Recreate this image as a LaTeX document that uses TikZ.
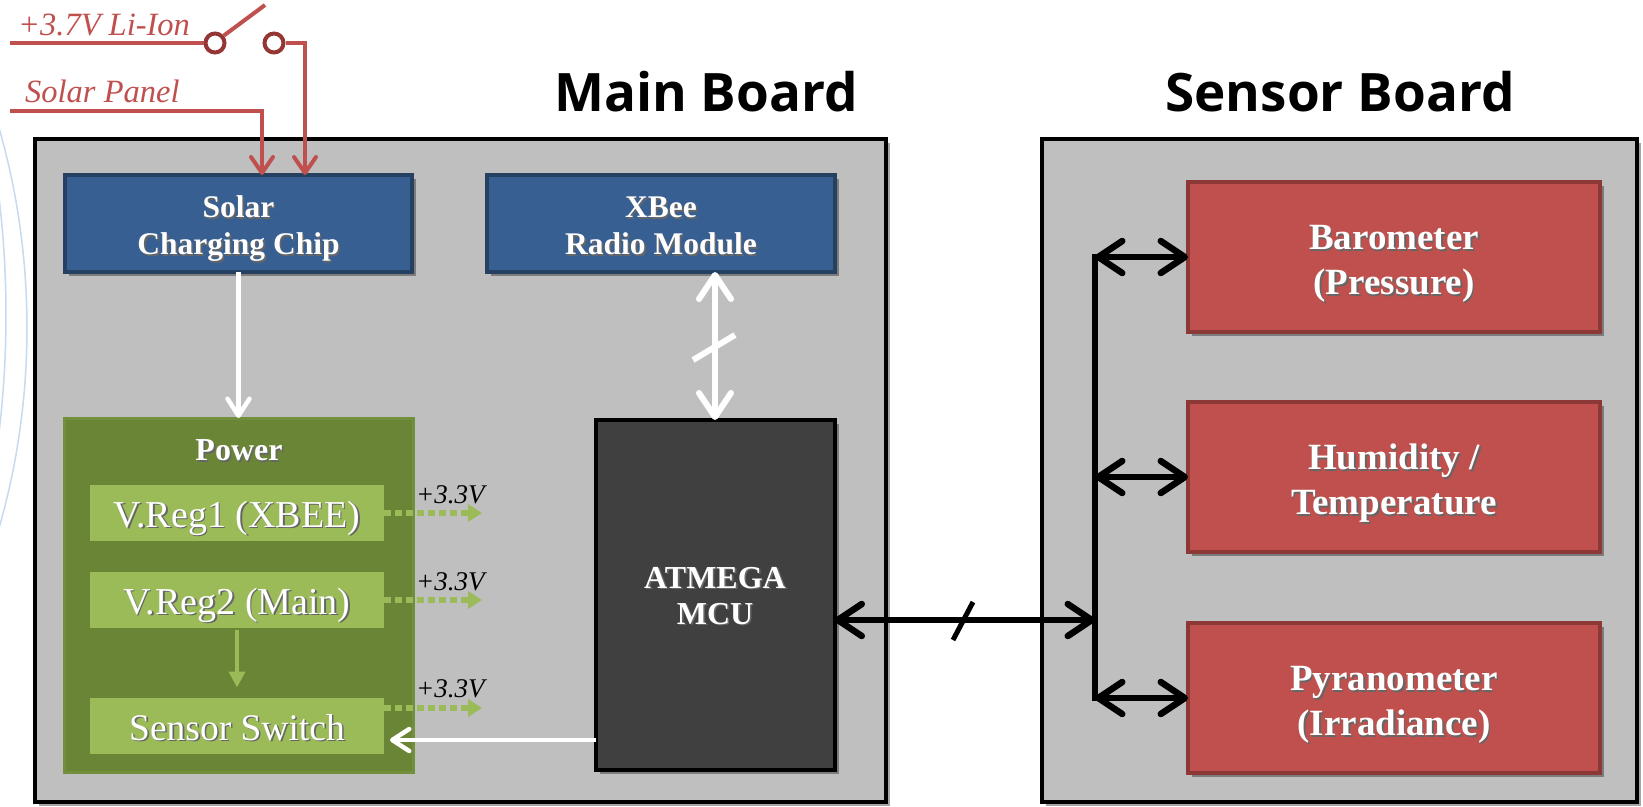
\documentclass[tikz,border=0pt]{standalone}
\usepackage{fontspec}
\setmainfont{Liberation Serif}
\newfontfamily\titlefont{Open Sans}
\usetikzlibrary{arrows.meta,shadows,calc}
\definecolor{boardgray}{HTML}{BFBFBF}
\definecolor{bluefill}{HTML}{375F92}
\definecolor{blueedge}{HTML}{254061}
\definecolor{redfill}{HTML}{C0504D}
\definecolor{rededge}{HTML}{8C3836}
\definecolor{greendark}{HTML}{6A8535}
\definecolor{greenedge}{HTML}{728F3B}
\definecolor{greenlight}{HTML}{9BBB59}
\definecolor{mcufill}{HTML}{404040}
\definecolor{wirered}{HTML}{C0504D}
\definecolor{switchred}{HTML}{943634}
\definecolor{arcblue}{HTML}{C6DBEF}
\newcommand\tsh[1]{\leavevmode\rlap{\hspace{1.6pt}\raisebox{-1.6pt}{\textcolor{black!60}{#1}}}#1}
\newcommand\mlines[2]{\raisebox{#1}[\height][\depth]{\begin{tabular}{@{}c@{}}#2\end{tabular}}}
\begin{document}
\begin{tikzpicture}[x=1pt,y=-1pt,
  shd/.style={drop shadow={shadow xshift=4pt,shadow yshift=-4pt,opacity=0.35,fill=black}},
  box/.style={rectangle,inner sep=0pt,outer sep=0pt,align=center,text=white},
  boardbox/.style={box,draw=black,fill=boardgray,line width=4pt,shd},
  bluebox/.style={box,fill=bluefill,draw=blueedge,line width=3.5pt,shd,
     font={\bfseries\fontsize{31.5}{37}\selectfont},minimum width=347pt,minimum height=97pt},
  redbox/.style={box,fill=redfill,draw=rededge,line width=4pt,shd,
     font={\bfseries\fontsize{37}{45}\selectfont},minimum width=412pt,minimum height=150pt},
  regbox/.style={box,fill=greenlight,minimum width=294pt,minimum height=56pt,
     text height=29pt,text depth=0pt},
  vlabel/.style={anchor=base west,inner sep=0pt,font={\itshape\fontsize{27}{29}\selectfont}},
  blackarr/.style={line width=6.5pt,black,
     {Straight Barb[round,length=24pt,width=32pt]}-{Straight Barb[round,length=24pt,width=32pt]}},
  whitearr/.style={line width=4.5pt,white,-{Straight Barb[round,length=17pt,width=22pt]}},
  whitedbl/.style={line width=6pt,white,
     {Straight Barb[round,length=24pt,width=32pt]}-{Straight Barb[round,length=24pt,width=32pt]}},
  redwire/.style={line width=4pt,wirered},
  redarr/.style={redwire,-{Straight Barb[round,length=16pt,width=22pt]}},
  greenarr/.style={line width=4pt,greenlight,-{Triangle[length=16pt,width=16pt]}},
  dotarr/.style={line width=6pt,greenlight,dash pattern=on 7pt off 4pt,-{Triangle[length=14pt,width=17pt]}},
  wirelabel/.style={anchor=base west,inner sep=0pt,text=wirered,font={\itshape\fontsize{32.5}{35}\selectfont}}
]
\useasboundingbox (0,0) rectangle (1643,806);
\fill[white] (0,0) rectangle (1643,806);
% background arcs
\begin{scope}
\clip (0,0) rectangle (1643,806);
\draw[arcblue,line width=1.5pt] (-698,328) circle[radius=725];
\draw[arcblue,line width=1.5pt] (-969,315) circle[radius=975];
\end{scope}

% titles
\node[anchor=base,inner sep=0pt,font={\titlefont\bfseries\fontsize{53}{60}\selectfont}] (tmain) at (706,111) {Main Board};
\node[anchor=base,inner sep=0pt,font={\titlefont\bfseries\fontsize{53}{60}\selectfont}] (tsens) at (1340,111) {Sensor Board};

% boards
\node[boardbox,minimum width=851pt,minimum height=663pt] (mainb) at (460.5,470.5) {};
\node[boardbox,minimum width=595pt,minimum height=663pt] (sensb) at (1339.5,470.5) {};

% main board blocks
\node[bluebox] (solar) at (238.5,223.5) {\mlines{-5pt}{\tsh{Solar}\\\tsh{Charging Chip}}};
\node[bluebox,minimum width=348pt] (xbee) at (661,223.5) {\mlines{-5pt}{\tsh{XBee}\\\tsh{Radio Module}}};
\node[box,fill=greendark,draw=greenedge,line width=3pt,minimum width=349pt,minimum height=354pt] (power) at (238.5,595) {};
\node[box,font={\bfseries\fontsize{32}{36}\selectfont},text height=21pt,text depth=0pt] (ptitle) at (239,450) {\tsh{Power}};
\node[regbox,font={\fontsize{38}{40}\selectfont}] (vreg1) at (237,512.5) {\tsh{V.Reg1 (XBEE)}};
\node[regbox,font={\fontsize{38}{40}\selectfont}] (vreg2) at (237,599.5) {\tsh{V.Reg2 (Main)}};
\node[regbox,font={\fontsize{37.5}{40}\selectfont}] (sws) at (237,725.5) {\tsh{Sensor Switch}};
\node[box,fill=mcufill,draw=black,line width=4pt,shd,minimum width=239pt,minimum height=350pt,
  font={\bfseries\fontsize{32}{36}\selectfont}] (mcu) at (715,595) {\mlines{-4pt}{\tsh{ATMEGA}\\\tsh{MCU}}};

% sensor blocks
\node[redbox] (baro) at (1394,257) {\mlines{-6pt}{\tsh{Barometer}\\\tsh{(Pressure)}}};
\node[redbox] (humid) at (1394,477) {\mlines{-6pt}{\tsh{Humidity /}\\\tsh{Temperature}}};
\node[redbox] (pyra) at (1394,698) {\mlines{-6pt}{\tsh{Pyranometer}\\\tsh{(Irradiance)}}};

% supply wires
\node[circle,draw=switchred,fill=white,line width=4pt,minimum size=19pt,inner sep=0pt] (sw1) at (215,43) {};
\node[circle,draw=switchred,fill=white,line width=4pt,minimum size=19pt,inner sep=0pt] (sw2) at (274,43) {};
\coordinate (li0) at (10,43);
\coordinate (lever) at (265,5);
\coordinate (lij) at (305,43);
\coordinate (sp0) at (10,111);
\coordinate (spj) at (262,111);
\draw[redwire] (li0) -- (sw1.west);
\draw[redwire] (sw1.40) -- (lever);
\draw[redarr] (sw2.east) -- (lij) -- (lij |- solar.north);
\draw[redarr] (sp0) -- (spj) -- (spj |- solar.north);
\node[wirelabel] (lilbl) at (18,35) {+3.7V Li-Ion};
\node[wirelabel] (splbl) at (25,102) {Solar Panel};

% main board connectors
\draw[whitearr] (solar.south) -- (power.north);
\draw[whitedbl] (xbee.south -| mcu.north) -- (mcu.north);
\draw[white,line width=6pt] (693,360) -- (735,335);
\coordinate (swy) at (0,740);
\draw[whitearr,shorten >=6pt] (mcu.west |- swy) -- (sws.east |- swy);
\draw[greenarr,shorten >=10pt,shorten <=2pt] (vreg2.south) -- (sws.north);
\coordinate (d1) at (482,513);
\coordinate (d2) at (482,600);
\coordinate (d3) at (482,708);
\draw[dotarr] (vreg1.east |- d1) -- (d1);
\draw[dotarr] (vreg2.east |- d2) -- (d2);
\draw[dotarr] (sws.east |- d3) -- (d3);
\node[vlabel] (v1) at (416,503) {+3.3V};
\node[vlabel] (v2) at (416,590) {+3.3V};
\node[vlabel] (v3) at (416,697) {+3.3V};

% bus
\coordinate (busm) at (1095,620);
\coordinate (bust) at (1095,257);
\coordinate (busb) at (1095,698);
\draw[line width=6.5pt,black,line cap=rect] (bust) -- (busb);
\draw[blackarr] (mcu.east |- busm) -- (busm);
\draw[black,line width=5pt] (953,640) -- (973,602);
\draw[blackarr] (bust) -- (baro.west);
\draw[blackarr] (bust |- humid.west) -- (humid.west);
\draw[blackarr] (busb) -- (pyra.west);
\end{tikzpicture}
\end{document}
